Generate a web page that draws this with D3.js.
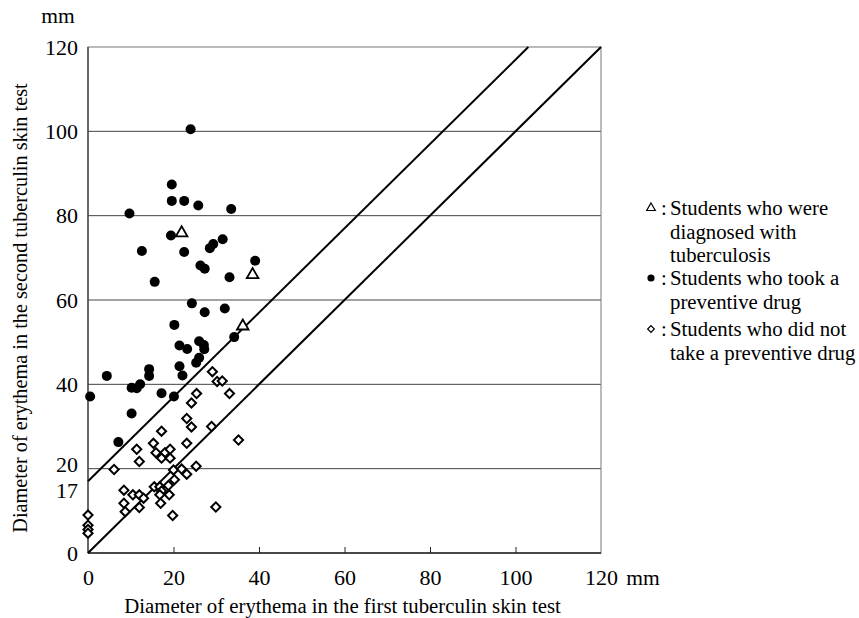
<!DOCTYPE html>
<html>
<head>
<meta charset="utf-8">
<script src="https://cdn.jsdelivr.net/npm/d3@7"></script>
<style>
  body { margin: 0; background: #fff; }
  svg { display: block; }
  text { font-family: 'Liberation Serif', 'DejaVu Serif', serif; fill: #000; }
</style>
</head>
<body>
<div id="viz"></div>
<script>
'use strict';

// first test (x), second test (y), mm
const tookDrug = [
  [24, 100.5], [19.6, 87.4], [19.6, 83.5], [22.5, 83.5], [25.8, 82.4], [9.7, 80.5],
  [33.5, 81.6], [19.4, 75.3], [31.5, 74.4], [29.3, 73.3], [28.5, 72.3], [12.6, 71.6],
  [22.5, 71.4], [39.1, 69.3], [26.3, 68.2], [27.3, 67.4], [15.6, 64.3], [33.1, 65.4],
  [24.3, 59.2], [27.3, 57.1], [32.0, 58.0], [20.2, 54.1], [34.2, 51.2], [21.4, 49.2],
  [23.2, 48.4], [26.0, 50.2], [27.1, 49.3], [27.2, 48.3], [26.0, 46.3], [25.3, 45.1],
  [21.4, 44.3], [22.1, 42.1], [14.3, 43.6], [14.3, 42.0], [4.4, 42.0], [10.2, 39.2],
  [11.4, 39.1], [12.2, 40.0], [0.5, 37.1], [17.2, 37.9], [20.1, 37.1], [10.2, 33.1],
  [7.1, 26.3]
];

const diagnosed = [[21.9, 75.9], [38.5, 66.0], [36.2, 53.8]];

const noDrug = [
  [29.1, 43.0], [30.2, 40.7], [31.4, 40.8], [25.4, 37.8], [33.1, 37.8], [24.2, 35.6],
  [23.1, 31.9], [24.2, 29.9], [28.9, 30.0], [17.2, 28.9], [15.3, 26.0], [23.1, 26.0],
  [35.2, 26.8], [11.4, 24.6], [15.9, 23.8], [18.0, 23.8], [19.2, 24.6], [17.2, 22.5],
  [19.2, 22.5], [12.0, 21.7], [6.1, 19.8], [25.3, 20.6], [20.0, 19.7], [21.9, 19.9],
  [23.1, 18.7], [20.2, 17.4], [15.5, 15.7], [16.8, 15.7], [18.8, 16.0], [17.2, 14.7],
  [8.4, 14.9], [10.5, 13.8], [12.0, 13.8], [13.0, 13.0], [16.8, 13.8], [19.0, 13.8],
  [17.0, 11.8], [8.4, 11.8], [12.0, 10.8], [8.7, 9.8], [19.8, 8.9], [29.9, 10.9],
  [0, 9.0], [0, 6.6], [0, 5.6], [0, 4.7]
];

const xTicks = [0, 20, 40, 60, 80, 100, 120];
const yTicks = [0, 17, 20, 40, 60, 80, 100, 120];
const gridLines = [20, 40, 60, 80, 100];
// reference lines: y = x + offset
const refOffsets = [17, 0];

const legendItems = [
  {shape: 'triangle', lines: ['Students who were', 'diagnosed with', 'tuberculosis']},
  {shape: 'dot', lines: ['Students who took a', 'preventive drug']},
  {shape: 'diamond', lines: ['Students who did not', 'take a preventive drug']}
];

const FONT = "'Liberation Serif', 'DejaVu Serif', serif";
const W = 859, H = 618;
const margin = {top: 47, right: 258, bottom: 65, left: 88};
const width = W - margin.left - margin.right;
const height = H - margin.top - margin.bottom;

const svg = d3.select('#viz')
  .append('svg')
    .attr('width', W)
    .attr('height', H)
    .attr('font-family', FONT);

const g = svg.append('g')
  .attr('transform', `translate(${margin.left},${margin.top})`);

const x = d3.scaleLinear().domain([0, 120]).range([0, width]);
const y = d3.scaleLinear().domain([0, 120]).range([height, 0]);

// grid
g.selectAll('.grid')
  .data(gridLines)
  .enter().append('line')
    .attr('x1', 0).attr('x2', width)
    .attr('y1', d => y(d)).attr('y2', d => y(d))
    .attr('stroke', '#444')
    .attr('stroke-width', 1);

// frame
g.append('rect')
  .attr('width', width).attr('height', height)
  .attr('fill', 'none')
  .attr('stroke', '#777')
  .attr('stroke-width', 1);

g.append('line')
  .attr('x1', 0).attr('x2', 0).attr('y1', 0).attr('y2', height)
  .attr('stroke', '#333').attr('stroke-width', 1.2);
g.append('line')
  .attr('x1', 0).attr('x2', width).attr('y1', height).attr('y2', height)
  .attr('stroke', '#222').attr('stroke-width', 1.5);

// x axis, ticks inward
const xAxis = g.append('g')
  .attr('transform', `translate(0,${height})`)
  .call(d3.axisBottom(x).tickValues(xTicks).tickSize(-6).tickPadding(16));
xAxis.select('.domain').remove();
xAxis.selectAll('line').attr('stroke', '#222').filter(d => d === 0 || d === 120).remove();
xAxis.selectAll('text').attr('font-size', 22).attr('font-family', FONT);

const yAxis = g.append('g')
  .call(d3.axisLeft(y).tickValues(yTicks).tickSize(0).tickPadding(10));
yAxis.select('.domain').remove();
yAxis.selectAll('text').attr('font-size', 22).attr('font-family', FONT)
  .attr('dy', d => d === 17 ? '0.72em' : d === 20 ? '0.14em' : '0.32em');

// units
svg.append('text').attr('x', 58).attr('y', 23)
  .attr('text-anchor', 'middle').attr('font-size', 21.5).text('mm');
svg.append('text').attr('x', 643).attr('y', 585)
  .attr('text-anchor', 'middle').attr('font-size', 21.5).text('mm');

// axis titles
svg.append('text')
  .attr('x', margin.left + width / 2 - 2).attr('y', 613)
  .attr('text-anchor', 'middle').attr('font-size', 20.8)
  .text('Diameter of erythema in the first tuberculin skin test');
svg.append('text')
  .attr('transform', `translate(27,${margin.top + height / 2 + 8}) rotate(-90)`)
  .attr('text-anchor', 'middle').attr('font-size', 20.3)
  .text('Diameter of erythema in the second tuberculin skin test');

// reference lines clipped to the box
const line = d3.line().x(d => x(d[0])).y(d => y(d[1]));
g.selectAll('.ref')
  .data(refOffsets)
  .enter().append('path')
    .attr('d', k => line([[0, k], [120 - k, 120]]))
    .attr('fill', 'none')
    .attr('stroke', '#000')
    .attr('stroke-width', 2);

// markers
const diamondPath = d3.symbol().type(d3.symbolSquare).size(42)();
const trianglePath = d3.symbol().type(d3.symbolTriangle).size(58)();

g.selectAll('.nodrug')
  .data(noDrug)
  .enter().append('path')
    .attr('d', diamondPath)
    .attr('transform', d => `translate(${x(d[0])},${y(d[1])}) rotate(45)`)
    .attr('fill', '#fff')
    .attr('stroke', '#000')
    .attr('stroke-width', 2);

g.selectAll('.drug')
  .data(tookDrug)
  .enter().append('circle')
    .attr('cx', d => x(d[0]))
    .attr('cy', d => y(d[1]))
    .attr('r', 5)
    .attr('fill', '#000');

g.selectAll('.tb')
  .data(diagnosed)
  .enter().append('path')
    .attr('d', trianglePath)
    .attr('transform', d => `translate(${x(d[0])},${y(d[1])})`)
    .attr('fill', '#fff')
    .attr('stroke', '#000')
    .attr('stroke-width', 1.8);

// legend
const legend = svg.append('g');
const legendTop = [215, 285, 336];
const lineGap = 23.5;
const legendSize = 20.8;
legendItems.forEach((item, i) => {
  const ly = legendTop[i];
  const sym = legend.append('g').attr('transform', `translate(651,${ly - 7})`);
  if (item.shape === 'triangle') {
    sym.append('path').attr('d', d3.symbol().type(d3.symbolTriangle).size(32)())
      .attr('fill', 'none').attr('stroke', '#000').attr('stroke-width', 1.2);
  } else if (item.shape === 'dot') {
    sym.append('circle').attr('r', 3.6).attr('fill', '#000');
  } else {
    sym.append('path').attr('d', d3.symbol().type(d3.symbolSquare).size(22)())
      .attr('transform', 'rotate(45)')
      .attr('fill', 'none').attr('stroke', '#000').attr('stroke-width', 1.2);
  }
  legend.append('text').attr('x', 661).attr('y', ly)
    .attr('font-size', legendSize).attr('font-family', FONT).text(':');
  item.lines.forEach((t, j) => {
    legend.append('text')
      .attr('x', 670).attr('y', ly + j * lineGap)
      .attr('font-size', legendSize).attr('font-family', FONT)
      .text(t);
  });
});
</script>
</body>
</html>
